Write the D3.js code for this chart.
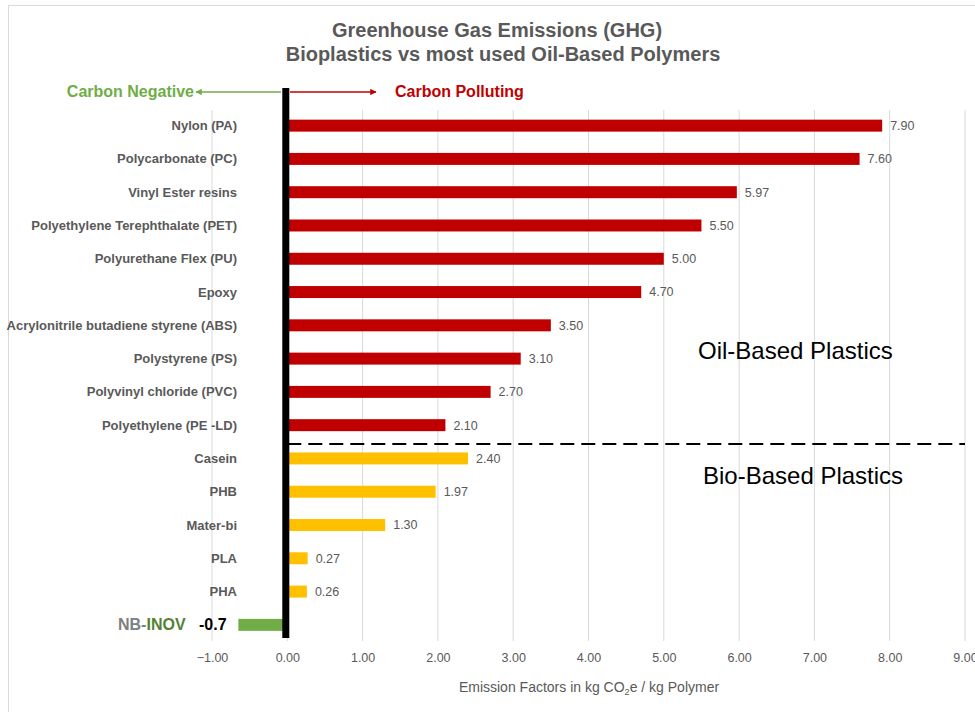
<!DOCTYPE html>
<html>
<head>
<meta charset="utf-8">
<script src="https://cdn.jsdelivr.net/npm/d3@7"></script>
<style>
  body { margin: 0; background: #fff; font-family: "Liberation Sans", Arial, sans-serif; }
</style>
</head>
<body>
<div id="chart"></div>
<script>
// materials, top to bottom
const materials = ["Nylon (PA)", "Polycarbonate (PC)", "Vinyl Ester resins",
    "Polyethylene Terephthalate (PET)", "Polyurethane Flex (PU)", "Epoxy",
    "Acrylonitrile butadiene styrene (ABS)", "Polystyrene (PS)",
    "Polyvinyl chloride (PVC)", "Polyethylene (PE -LD)",
    "Casein", "PHB", "Mater-bi", "PLA", "PHA", "NB-INOV"];
const emissions = [7.90, 7.60, 5.97, 5.50, 5.00, 4.70, 3.50, 3.10, 2.70, 2.10,
    2.40, 1.97, 1.30, 0.27, 0.26, -0.65];
const groups = ["oil", "oil", "oil", "oil", "oil", "oil", "oil", "oil", "oil", "oil",
    "bio", "bio", "bio", "bio", "bio", "nb"];
const xTicks = [-1, 0, 1, 2, 3, 4, 5, 6, 7, 8, 9];
const nbLabel = "-0.7";

const data = materials.map((m, i) => ({name: m, value: emissions[i], group: groups[i]}));

const width = 975, height = 712;
const margin = {top: 109, right: 10, bottom: 70, left: 212};

const svg = d3.select("#chart")
    .append("svg")
    .attr("width", width)
    .attr("height", height)
    .attr("viewBox", [0, 0, width, height]);

// chart border
svg.append("rect")
    .attr("x", 8.5).attr("y", 5.5)
    .attr("width", width + 10).attr("height", height + 10)
    .attr("fill", "none").attr("stroke", "#d9d9d9");

const x = d3.scaleLinear()
    .domain([-1, 9])
    .range([212, 965]);

const y = d3.scaleBand()
    .domain(materials)
    .range([margin.top, height - margin.bottom - 0.5])
    .paddingInner(0.64)
    .paddingOuter(0.32);

// vertical grid
svg.append("g")
    .selectAll("line")
    .data(xTicks)
    .join("line")
    .attr("x1", d => x(d)).attr("x2", d => x(d))
    .attr("y1", 110).attr("y2", 641)
    .attr("stroke", "#d9d9d9");

// x axis labels
const xAxis = g => g
    .attr("transform", `translate(0, 658)`)
    .call(d3.axisBottom(x).tickValues(xTicks).tickFormat(d3.format(".2f")).tickSize(0).tickPadding(0))
    .call(g => g.select(".domain").remove())
    .call(g => g.selectAll("text")
        .attr("dy", "0.35em")
        .attr("font-size", 12.5)
        .attr("font-family", "Liberation Sans, Arial, sans-serif")
        .attr("fill", "#595959"));
svg.append("g").call(xAxis);

const colors = {oil: "#c00000", bio: "#ffc000", nb: "#70ad47"};

// bars
svg.append("g")
    .selectAll("rect")
    .data(data)
    .join("rect")
    .attr("fill", d => colors[d.group])
    .attr("x", d => x(Math.min(0, d.value)))
    .attr("width", d => Math.abs(x(d.value) - x(0)))
    .attr("y", d => y(d.name))
    .attr("height", y.bandwidth());

// value labels
svg.append("g")
    .selectAll("text")
    .data(data.filter(d => d.group != "nb"))
    .join("text")
    .text(d => d3.format(".2f")(d.value))
    .attr("x", d => x(d.value) + 8)
    .attr("y", d => y(d.name) + y.bandwidth() / 2)
    .attr("dy", "0.35em")
    .attr("font-size", 12.5)
    .attr("fill", "#595959");

// category labels
svg.append("g")
    .selectAll("text")
    .data(data.filter(d => d.group != "nb"))
    .join("text")
    .text(d => d.name)
    .attr("x", 237)
    .attr("y", d => y(d.name) + y.bandwidth() / 2)
    .attr("dy", "0.35em")
    .attr("text-anchor", "end")
    .attr("font-size", 13)
    .attr("font-weight", "bold")
    .attr("fill", "#595959");

// NB-INOV label
const nb = data[data.length - 1];
const nbText = svg.append("text")
    .attr("x", 118)
    .attr("y", y(nb.name) + y.bandwidth() / 2)
    .attr("dy", "0.35em")
    .attr("font-size", 16)
    .attr("font-weight", "bold");
nbText.append("tspan").attr("fill", "#7f7f7f").text("NB-");
nbText.append("tspan").attr("fill", "#548235").text("INOV");
svg.append("text")
    .attr("x", 199)
    .attr("y", y(nb.name) + y.bandwidth() / 2)
    .attr("dy", "0.35em")
    .attr("font-size", 16)
    .attr("font-weight", "bold")
    .attr("fill", "#000")
    .text(nbLabel);

// zero line
svg.append("rect")
    .attr("x", x(0) - 5).attr("y", 88)
    .attr("width", 7).attr("height", 550)
    .attr("fill", "#000");

// divider between oil and bio
svg.append("line")
    .attr("x1", x(0)).attr("x2", x(9))
    .attr("y1", 444).attr("y2", 444)
    .attr("stroke", "#000")
    .attr("stroke-width", 2)
    .attr("stroke-dasharray", "14,7");

svg.append("text")
    .attr("x", 698).attr("y", 359)
    .attr("font-size", 24)
    .attr("fill", "#000")
    .text("Oil-Based Plastics");
svg.append("text")
    .attr("x", 703).attr("y", 484)
    .attr("font-size", 24)
    .attr("fill", "#000")
    .text("Bio-Based Plastics");

// arrows
const defs = svg.append("defs");
[["arrG", "#70ad47"], ["arrR", "#c00000"]].forEach(([id, c]) => {
    defs.append("marker")
        .attr("id", id)
        .attr("viewBox", "0 0 10 10")
        .attr("refX", 9).attr("refY", 5)
        .attr("markerWidth", 4).attr("markerHeight", 4)
        .attr("orient", "auto")
        .append("path")
        .attr("d", "M0,0L10,5L0,10z")
        .attr("fill", c);
});
svg.append("line")
    .attr("x1", 281).attr("x2", 196)
    .attr("y1", 92).attr("y2", 92)
    .attr("stroke", "#70ad47").attr("stroke-width", 1.6)
    .attr("marker-end", "url(#arrG)");
svg.append("line")
    .attr("x1", 290).attr("x2", 376)
    .attr("y1", 92).attr("y2", 92)
    .attr("stroke", "#c00000").attr("stroke-width", 1.6)
    .attr("marker-end", "url(#arrR)");

svg.append("text")
    .attr("x", 194).attr("y", 97)
    .attr("text-anchor", "end")
    .attr("font-size", 16).attr("font-weight", "bold")
    .attr("fill", "#70ad47")
    .text("Carbon Negative");
svg.append("text")
    .attr("x", 395).attr("y", 97)
    .attr("font-size", 16).attr("font-weight", "bold")
    .attr("fill", "#c00000")
    .text("Carbon Polluting");

// title
svg.append("text")
    .attr("x", 497).attr("y", 37)
    .attr("text-anchor", "middle")
    .attr("font-size", 20).attr("font-weight", "bold")
    .attr("fill", "#595959")
    .text("Greenhouse Gas Emissions (GHG)");
svg.append("text")
    .attr("x", 503).attr("y", 61)
    .attr("text-anchor", "middle")
    .attr("font-size", 20).attr("font-weight", "bold")
    .attr("fill", "#595959")
    .text("Bioplastics vs most used Oil-Based Polymers");

// axis title
const at = svg.append("text")
    .attr("x", 589).attr("y", 692)
    .attr("text-anchor", "middle")
    .attr("font-size", 14)
    .attr("fill", "#595959");
at.append("tspan").text("Emission Factors in kg CO");
at.append("tspan").attr("font-size", 9).attr("dy", 3).text("2");
at.append("tspan").attr("dy", -3).text("e / kg Polymer");
</script>
</body>
</html>
